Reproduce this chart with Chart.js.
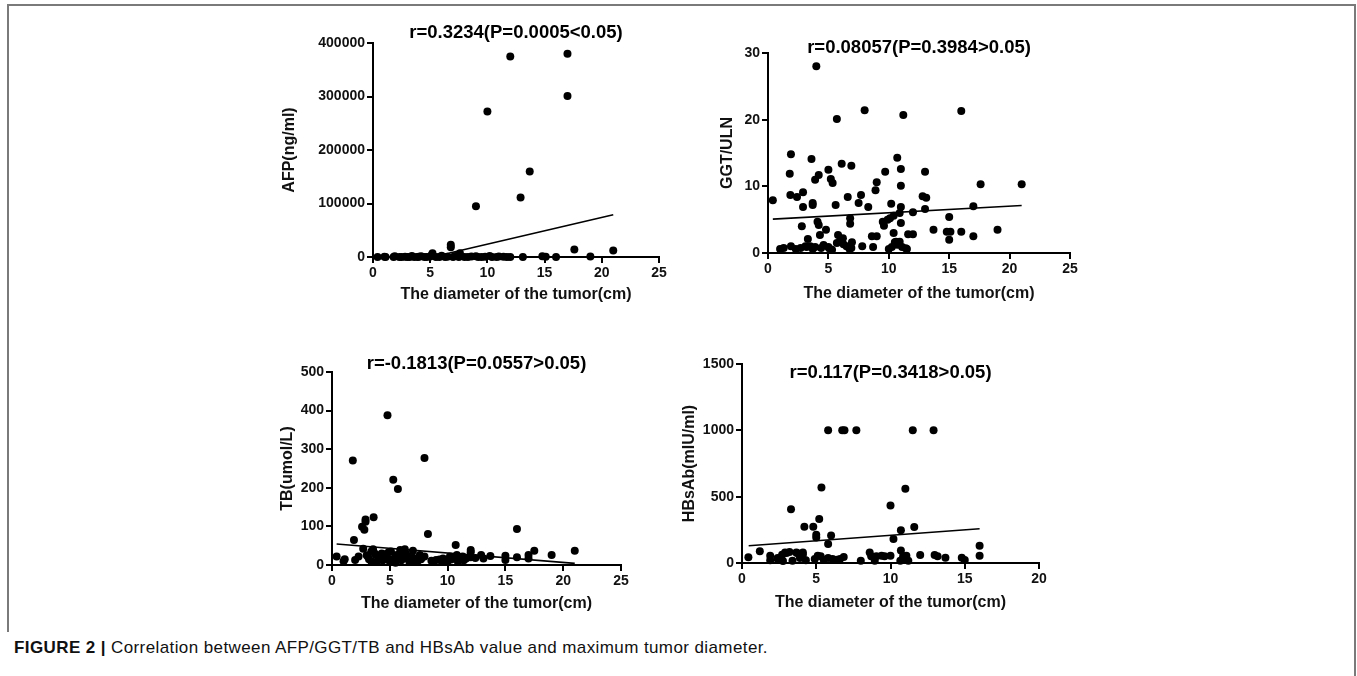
<!DOCTYPE html>
<html>
<head>
<meta charset="utf-8">
<script src="https://cdn.jsdelivr.net/npm/chart.js@4.4.0/dist/chart.umd.min.js"></script>
<style>
  html, body { margin: 0; padding: 0; background: #fff; }
  body { width: 1357px; height: 676px; position: relative; overflow: hidden; font-family: "Liberation Sans", Arial, sans-serif; }
  canvas { position: absolute; }
  #frameTop { position: absolute; left: 7px; top: 4px; width: 1349px; height: 2px; background: #7a7a7a; }
  #frameLeft { position: absolute; left: 7px; top: 4px; width: 2px; height: 628px; background: #7a7a7a; }
  #frameRight { position: absolute; left: 1354px; top: 4px; width: 2px; height: 672px; background: #7a7a7a; }
  #caption { position: absolute; left: 14px; top: 638px; font-size: 17px; letter-spacing: 0.4px; color: #111; white-space: nowrap; font-family: "Liberation Sans", Arial, sans-serif; }
  #caption b { font-weight: bold; }
</style>
</head>
<body>
<div id="frameTop"></div>
<div id="frameLeft"></div>
<div id="frameRight"></div>
<canvas id="c1" width="450" height="302" style="left:240px;top:8px"></canvas>
<canvas id="c2" width="420" height="302" style="left:690px;top:8px"></canvas>
<canvas id="c3" width="430" height="300" style="left:230px;top:320px"></canvas>
<canvas id="c4" width="410" height="300" style="left:670px;top:320px"></canvas>
<div id="caption"><b>FIGURE 2 |</b> Correlation between AFP/GGT/TB and HBsAb value and maximum tumor diameter.</div>
<script>
// ---------------- DATA ----------------
// Panel A: AFP vs diameter
const afpDiameter = [17, 12, 17, 10, 13.7, 12.9, 9, 6.8, 6.8, 17.6, 21, 5.2, 7.6, 5.1,
  0.4, 1.0, 1.1, 1.8, 1.9, 2.3, 2.5, 2.8, 3.0, 3.2,
  3.4, 3.6, 3.9, 4.0, 4.2, 4.5, 4.7, 5.0, 5.5, 5.8,
  6.0, 6.3, 6.5, 7.0, 7.2, 7.5, 8.0, 8.3, 8.6, 9.0,
  9.2, 9.5, 9.8, 10.2, 10.4, 10.8, 11.0, 11.4, 11.7, 12.0,
  13.1, 14.8, 15.1, 16.0, 19.0];
const afpValue = [380000, 375000, 301000, 272000, 160000, 111000, 95000, 23000, 18000, 14000, 12000, 7000, 7000, 3000,
  12, 350, 40, 8, 1210, 25, 3, 600, 90, 15,
  2100, 7, 48, 300, 1500, 20, 6, 850, 120, 35,
  2400, 10, 400, 60, 1800, 5, 220, 18, 900, 1300,
  30, 4, 700, 2000, 50, 9, 1100, 250, 14, 3,
  80, 1600, 500, 2, 1000];
const afpFitX = [5.2, 21];
const afpFitY = [0, 79000];
const afpXTicks = [0, 5, 10, 15, 20, 25];
const afpYTicks = [0, 100000, 200000, 300000, 400000];

// Panel B: GGT/ULN vs diameter
const ggtDiameter = [0.4, 4.0, 8.0, 5.7, 11.2, 16.0, 1.9, 3.6, 1.8, 3.9,
  4.2, 5.0, 5.2, 5.35, 6.1, 6.9, 10.7, 11.0, 9.7, 13.0,
  9.0, 11.0, 17.6, 21.0, 1.85, 2.4, 2.9, 8.9, 3.7, 3.7,
  2.9, 6.6, 7.7, 7.5, 8.3, 5.6, 10.2, 11.0, 12.8, 13.1,
  13.0, 17.0, 12.0, 10.9, 10.4, 10.1, 9.9, 9.5, 9.6, 15.0,
  6.8, 6.8, 4.1, 4.2, 4.8, 2.8, 4.3, 3.3, 11.0, 10.4,
  13.7, 14.8, 15.1, 16.0, 19.0, 17.0, 15.0, 11.6, 12.0, 8.6,
  9.0, 5.8, 6.2, 6.0, 6.95, 10.9, 10.5, 1.0, 1.3, 1.9,
  2.7, 3.2, 3.9, 4.4, 5.0, 5.3, 5.7, 6.5, 6.9, 7.8,
  8.7, 10.0, 10.25, 10.7, 11.1, 11.5, 3.1, 3.5, 3.7, 5.06,
  6.25, 6.75, 10.6, 11.4, 4.6, 2.3];
const ggtValue = [7.9, 28.0, 21.4, 20.1, 20.7, 21.3, 14.8, 14.1, 11.9, 11.0,
  11.7, 12.5, 11.1, 10.5, 13.4, 13.1, 14.3, 12.6, 12.2, 12.2,
  10.6, 10.1, 10.3, 10.3, 8.7, 8.4, 9.1, 9.4, 7.5, 7.2,
  6.9, 8.4, 8.7, 7.5, 6.9, 7.2, 7.4, 6.9, 8.5, 8.3,
  6.6, 7.0, 6.1, 6.0, 5.6, 5.2, 5.0, 4.7, 4.1, 5.4,
  5.2, 4.4, 4.7, 4.2, 3.5, 4.0, 2.7, 2.1, 4.5, 3.0,
  3.5, 3.2, 3.2, 3.2, 3.5, 2.5, 2.0, 2.8, 2.8, 2.5,
  2.5, 2.7, 2.2, 2.0, 1.6, 1.7, 1.6, 0.6, 0.75, 1.0,
  0.75, 0.9, 0.9, 0.75, 0.9, 0.5, 1.5, 1.0, 0.75, 1.0,
  0.9, 0.6, 0.9, 1.25, 0.9, 0.6, 1.0, 1.0, 0.6, 0.7,
  1.3, 0.6, 1.7, 0.7, 1.2, 0.6];
const ggtFitX = [0.4, 21];
const ggtFitY = [5.08, 7.12];
const ggtXTicks = [0, 5, 10, 15, 20, 25];
const ggtYTicks = [0, 10, 20, 30];

// Panel C: TB vs diameter
const tbDiameter = [4.8, 1.8, 8.0, 5.3, 5.7, 3.6, 2.9, 2.9, 2.6, 2.8,
  8.3, 16.0, 1.9, 10.7, 21.0, 17.5, 12.0, 19.0, 17.0, 17.0,
  16.0, 15.0, 15.0, 13.7, 12.9, 13.1, 12.0, 7.0, 6.3, 3.55,
  2.7, 0.4, 1.1, 2.0, 2.3, 3.1, 3.4, 3.8, 4.1, 4.3,
  4.7, 5.1, 5.4, 5.6, 5.9, 6.1, 6.4, 6.6, 6.9, 7.2,
  7.6, 7.7, 8.0, 8.6, 9.0, 9.6, 9.9, 10.2, 10.5, 10.8,
  11.1, 11.3, 11.6, 3.4, 3.9, 4.4, 5.0, 5.5, 6.0, 6.7,
  7.4, 8.8, 9.3, 10.0, 10.9, 11.4, 12.4, 1.0, 3.2, 3.7,
  4.0, 4.5, 5.2, 5.8, 6.2, 7.0, 7.8, 9.5, 10.3, 11.0,
  12.0, 3.0, 4.9, 6.5];
const tbValue = [388, 271, 277, 221, 197, 124, 118, 112, 99, 91,
  80, 93, 65, 52, 37, 37, 39, 26, 26, 17,
  20, 24, 13, 23, 26, 17, 20, 37, 41, 41,
  42, 22, 15, 13, 22, 22, 35, 26, 17, 30,
  22, 35, 17, 26, 39, 22, 30, 15, 22, 17,
  26, 15, 22, 11, 13, 17, 11, 22, 17, 26,
  15, 22, 17, 10, 8, 12, 9, 6, 12, 8,
  10, 9, 14, 10, 8, 12, 18, 10, 15, 30,
  20, 28, 14, 18, 27, 12, 20, 9, 14, 18,
  33, 25, 33, 20];
const tbFitX = [0.4, 21];
const tbFitY = [54.5, 4.3];
const tbXTicks = [0, 5, 10, 15, 20, 25];
const tbYTicks = [0, 100, 200, 300, 400, 500];

// Panel D: HBsAb vs diameter
const hbDiameter = [5.8, 6.75, 6.9, 7.7, 11.5, 12.9, 5.35, 11.0, 3.3, 10.0,
  5.2, 4.2, 4.8, 11.6, 10.7, 5.0, 5.0, 6.0, 5.8, 10.2,
  16.0, 16.0, 1.2, 0.43, 1.9, 1.9, 2.4, 2.7, 3.0, 3.2,
  3.7, 3.9, 4.1, 4.3, 4.9, 5.1, 5.3, 5.5, 5.8, 6.1,
  6.4, 6.6, 6.85, 8.0, 8.6, 8.7, 8.94, 9.05, 9.4, 9.6,
  10.0, 10.7, 10.85, 10.96, 11.07, 10.66, 11.2, 12.0, 12.97, 13.17,
  13.7, 14.8, 15.0, 2.4, 2.9, 3.4, 2.76, 3.66, 4.1];
const hbValue = [1000, 1000, 1000, 1000, 1000, 1000, 569, 559, 406, 434,
  331, 273, 273, 271, 246, 213, 193, 208, 143, 181,
  130, 55, 88, 43, 55, 20, 38, 63, 75, 83,
  75, 38, 63, 20, 30, 55, 50, 25, 38, 30,
  25, 30, 45, 17, 80, 50, 17, 50, 55, 50,
  55, 95, 50, 25, 55, 17, 17, 60, 60, 50,
  40, 40, 22, 30, 80, 17, 15, 80, 80];
const hbFitX = [0.45, 16];
const hbFitY = [130, 258];
const hbXTicks = [0, 5, 10, 15, 20];
const hbYTicks = [0, 500, 1000, 1500];

// ---------------- CHARTS ----------------
const FONT = '"Liberation Sans", Arial, Helvetica, sans-serif';

const panelTitle = {
  id: 'panelTitle',
  afterDraw(chart, args, opts) {
    const { ctx, chartArea } = chart;
    ctx.save();
    ctx.font = 'bold 18.5px ' + FONT;
    ctx.fillStyle = '#000';
    ctx.textAlign = 'center';
    ctx.textBaseline = 'alphabetic';
    ctx.fillText(opts.text, (chartArea.left + chartArea.right) / 2 + (opts.dx || 0), chartArea.top + opts.dy);
    ctx.restore();
  }
};

function pts(xs, ys) { return xs.map((x, i) => ({ x: x, y: ys[i] })); }

function makePanel(id, p) {
  const axisCommon = {
    border: { display: true, color: '#000', width: 2 },
    grid: { display: true, drawOnChartArea: false, drawTicks: true, tickLength: 6, color: '#000', lineWidth: 2 },
    ticks: { color: '#111', font: { family: FONT, size: 14, weight: 'bold' }, padding: 2, maxRotation: 0, autoSkip: false }
  };
  new Chart(document.getElementById(id), {
    type: 'scatter',
    data: {
      datasets: [
        {
          data: pts(p.fitX, p.fitY), showLine: true, borderColor: '#000', borderWidth: 1.6,
          pointRadius: 0, pointHoverRadius: 0, fill: false, clip: false
        },
        {
          data: pts(p.xs, p.ys), backgroundColor: '#000', borderWidth: 0,
          pointRadius: 4, pointHoverRadius: 4, clip: false
        }
      ]
    },
    options: {
      responsive: false, animation: false, devicePixelRatio: 1,
      layout: { padding: { left: 0, top: p.padTop, right: p.padRight, bottom: 0 } },
      plugins: {
        legend: { display: false }, tooltip: { enabled: false },
        panelTitle: { text: p.title, dy: p.titleDy }
      },
      scales: {
        x: Object.assign({}, axisCommon, {
          type: 'linear', min: p.xTicks[0], max: p.xTicks[p.xTicks.length - 1],
          afterBuildTicks: s => { s.ticks = p.xTicks.map(v => ({ value: v })); },
          afterFit: s => { s.height = p.xH; },
          title: { display: true, text: 'The diameter of the tumor(cm)', color: '#111',
                   font: { family: FONT, size: 16, weight: 'bold' }, padding: { top: 0, bottom: p.xTitlePad } }
        }),
        y: Object.assign({}, axisCommon, {
          type: 'linear', min: p.yTicks[0], max: p.yTicks[p.yTicks.length - 1],
          afterBuildTicks: s => { s.ticks = p.yTicks.map(v => ({ value: v })); },
          afterFit: s => { s.width = p.yW; },
          ticks: Object.assign({}, axisCommon.ticks, { callback: v => String(v) }),
          title: { display: true, text: p.yTitle, color: '#111',
                   font: { family: FONT, size: 16, weight: 'bold' }, padding: { top: p.yTitlePad, bottom: 0 } }
        })
      }
    },
    plugins: [panelTitle]
  });
}

makePanel('c1', {
  xs: afpDiameter, ys: afpValue, fitX: afpFitX, fitY: afpFitY, xTicks: afpXTicks, yTicks: afpYTicks,
  title: 'r=0.3234(P=0.0005<0.05)', titleDy: -5, yTitle: 'AFP(ng/ml)',
  padTop: 35, padRight: 31, yW: 133, xH: 53, yTitlePad: 39.7, xTitlePad: 5.4
});
makePanel('c2', {
  xs: ggtDiameter, ys: ggtValue, fitX: ggtFitX, fitY: ggtFitY, xTicks: ggtXTicks, yTicks: ggtYTicks,
  title: 'r=0.08057(P=0.3984>0.05)', titleDy: 0, yTitle: 'GGT/ULN',
  padTop: 45, padRight: 40, yW: 78, xH: 57, yTitlePad: 28.4, xTitlePad: 7.1
});
makePanel('c3', {
  xs: tbDiameter, ys: tbValue, fitX: tbFitX, fitY: tbFitY, xTicks: tbXTicks, yTicks: tbYTicks,
  title: 'r=-0.1813(P=0.0557>0.05)', titleDy: -3, yTitle: 'TB(umol/L)',
  padTop: 52, padRight: 39, yW: 102, xH: 55, yTitlePad: 48.4, xTitlePad: 7.1
});
makePanel('c4', {
  xs: hbDiameter, ys: hbValue, fitX: hbFitX, fitY: hbFitY, xTicks: hbXTicks, yTicks: hbYTicks,
  title: 'r=0.117(P=0.3418>0.05)', titleDy: 14, yTitle: 'HBsAb(mIU/ml)',
  padTop: 44, padRight: 41, yW: 72, xH: 57, yTitlePad: 10.4, xTitlePad: 7.7
});
</script>
</body>
</html>
